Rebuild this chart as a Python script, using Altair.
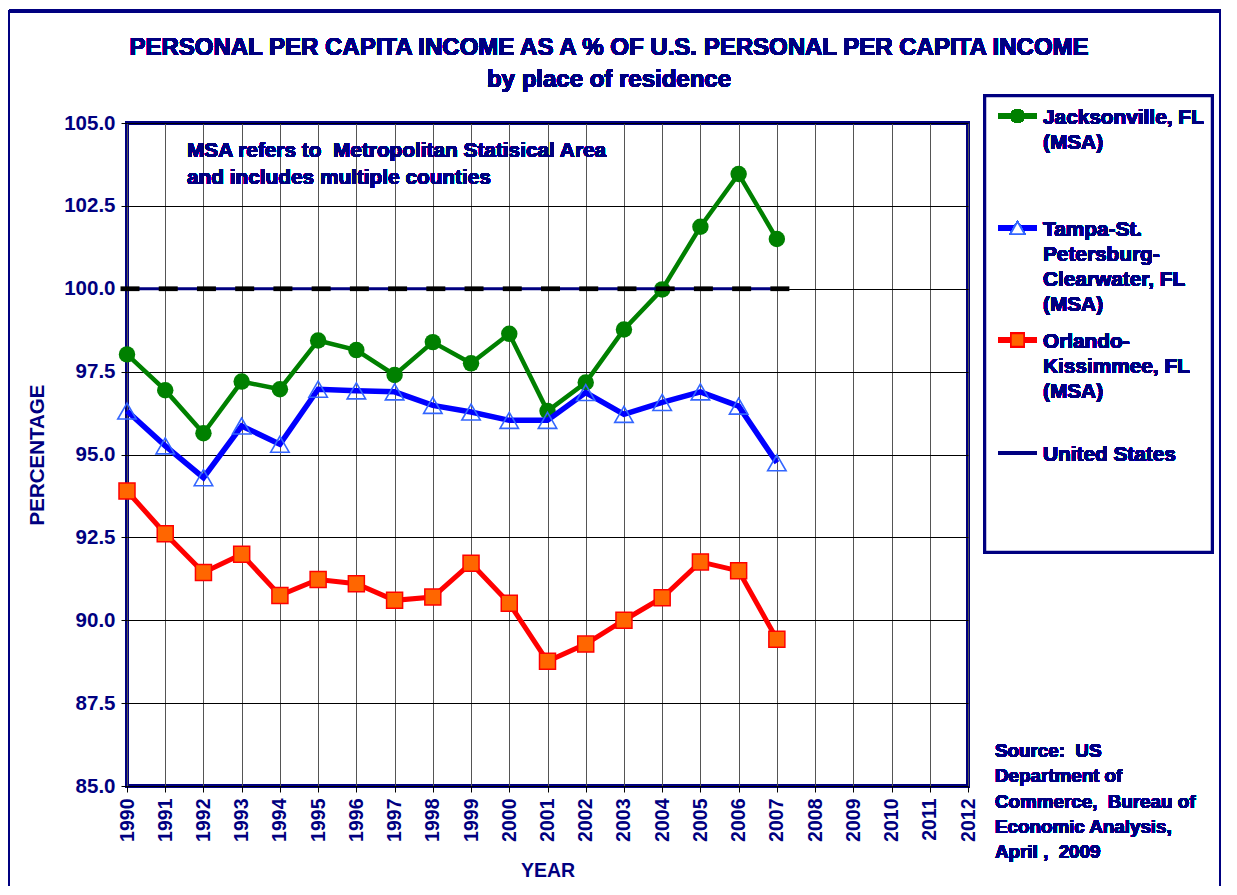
import altair as alt
import pandas as pd

years = list(range(1990, 2008))
jacksonville = [98.02, 96.94, 95.64, 97.20, 96.97, 98.44, 98.15, 97.40, 98.39, 97.75,
                98.64, 96.31, 97.17, 98.77, 99.98, 101.87, 103.46, 101.50]
tampa = [96.31, 95.26, 94.30, 95.86, 95.31, 96.97, 96.92, 96.89, 96.48, 96.28,
         96.03, 96.03, 96.87, 96.21, 96.57, 96.89, 96.46, 94.75]
orlando = [93.90, 92.61, 91.44, 91.99, 90.75, 91.23, 91.10, 90.60, 90.70, 91.72,
           90.51, 88.76, 89.28, 90.00, 90.68, 91.76, 91.49, 89.43]
united_states = [100.0] * 18

x_ticks = list(range(1990, 2013))
y_ticks = [85.0, 87.5, 90.0, 92.5, 95.0, 97.5, 100.0, 102.5, 105.0]

NB = "\u00a0"
title_lines = ["PERSONAL PER CAPITA INCOME AS A % OF U.S. PERSONAL PER CAPITA INCOME",
               "by place of residence"]
note_text = f"MSA refers to {NB}Metropolitan Statisical Area\nand includes multiple counties"
source_text = (f"Source: {NB}US\nDepartment of\nCommerce, {NB}Bureau of\n"
               f"Economic Analysis,\nApril , {NB}2009")
legend_labels = ["Jacksonville, FL\n(MSA)",
                 "Tampa-St.\nPetersburg-\nClearwater, FL\n(MSA)",
                 "Orlando-\nKissimmee, FL\n(MSA)",
                 "United States"]

NAVY = "#000080"
FONT = "Liberation Sans"
W, H = 841, 663

df = pd.DataFrame({
    "year": years * 4,
    "value": jacksonville + tampa + orlando + united_states,
    "series": (["Jacksonville"] * 18 + ["Tampa"] * 18 + ["Orlando"] * 18 + ["US"] * 18),
})

x_enc = alt.X("year:Q",
              scale=alt.Scale(domain=[1990, 2012], nice=False, zero=False),
              axis=alt.Axis(values=x_ticks, format="d", labelAngle=-90,
                            labelAlign="right", labelBaseline="middle",
                            labelFont=FONT, labelFontWeight="bold", labelFontSize=19.5,
                            labelColor=NAVY, labelPadding=6,
                            tickColor="#000000", tickSize=6, tickWidth=1,
                            grid=True, gridColor="#555555", gridWidth=1,
                            domain=False, title="YEAR", titleFont=FONT,
                            titleFontWeight="bold", titleFontSize=19.5, titleColor=NAVY,
                            titleX=W / 2, titleY=84, titleBaseline="middle",
                            titleAlign="center"))
y_enc = alt.Y("value:Q",
              scale=alt.Scale(domain=[85, 105], nice=False, zero=False),
              axis=alt.Axis(values=y_ticks, format=".1f",
                            labelFont=FONT, labelFontWeight="bold", labelFontSize=20.5,
                            labelColor=NAVY, labelPadding=6,
                            tickColor="#000000", tickSize=6, tickWidth=1,
                            grid=True, gridColor="#000000", gridWidth=1,
                            domain=False, title="PERCENTAGE", titleFont=FONT,
                            titleFontWeight="bold", titleFontSize=20.5, titleColor=NAVY,
                            titleAngle=-90, titleX=-90, titleY=H / 2,
                            titleAlign="center", titleBaseline="middle"))

base = alt.Chart(df).encode(x=x_enc, y=y_enc)

def series(name):
    return base.transform_filter(alt.datum.series == name)

jack_line = series("Jacksonville").mark_line(color="#008000", strokeWidth=4.5)
jack_pts = series("Jacksonville").mark_point(shape="circle", filled=True, color="#008000",
                                              size=270, opacity=1)
tampa_line = series("Tampa").mark_line(color="#0000FF", strokeWidth=5.5)
tampa_pts = series("Tampa").mark_point(shape="triangle-up", filled=False, color="#3366FF",
                                        size=340, strokeWidth=1.6, opacity=1)
orl_line = series("Orlando").mark_line(color="#FF0000", strokeWidth=5)
orl_pts = series("Orlando").mark_point(shape="square", filled=True, fill="#FF6600",
                                        stroke="#FF0000", strokeWidth=1.5, size=256, opacity=1)
us_line = series("US").mark_line(color=NAVY, strokeWidth=3)
DASH = "M-1,-0.25L1,-0.25L1,0.25L-1,0.25Z"
us_pts = series("US").mark_point(shape=DASH, filled=True, color="#000000",
                                  size=361, opacity=1, xOffset=3)

# Titles and notes
t1 = alt.Chart(df).mark_text(text=title_lines[0], font=FONT, fontWeight="bold", fontSize=24,
                             color=NAVY, align="center", baseline="alphabetic").encode(
    x=alt.value(482), y=alt.value(-68))
t2 = alt.Chart(df).mark_text(text=title_lines[1], font=FONT, fontWeight="bold", fontSize=24,
                             color=NAVY, align="center", baseline="alphabetic").encode(
    x=alt.value(482), y=alt.value(-36))
note = alt.Chart(df).mark_text(text=note_text, lineBreak="\n", lineHeight=27, font=FONT,
                               fontWeight="bold", fontSize=20.8, color=NAVY, align="left",
                               baseline="alphabetic").encode(
    x=alt.value(60), y=alt.value(34))
source = alt.Chart(df).mark_text(text=source_text, lineBreak="\n", lineHeight=25.3, font=FONT,
                                 fontWeight="bold", fontSize=18.8, color=NAVY, align="left",
                                 baseline="alphabetic").encode(
    x=alt.value(868), y=alt.value(634))

# Legend box and entries
legend_box = alt.Chart(df).mark_rect(fill="white", stroke=NAVY, strokeWidth=2.5).encode(
    x=alt.value(858), x2=alt.value(1085), y=alt.value(-27), y2=alt.value(429))
sym_y = [-7, 105, 217, 330]
txt_y = [1, 113, 225, 338]
leg_layers = [legend_box]
line_colors = ["#008000", "#0000FF", "#FF0000", NAVY]
line_widths = [4.5, 5.5, 5, 3]
for i in range(4):
    leg_layers.append(alt.Chart(df).mark_rule(color=line_colors[i], strokeWidth=line_widths[i]).encode(
        x=alt.value(871), x2=alt.value(910), y=alt.value(sym_y[i])))
    leg_layers.append(alt.Chart(df).mark_text(text=legend_labels[i], lineBreak="\n", lineHeight=25,
                                              font=FONT, fontWeight="bold", fontSize=20.8, color=NAVY,
                                              align="left", baseline="alphabetic").encode(
        x=alt.value(916), y=alt.value(txt_y[i])))
leg_layers.append(alt.Chart(df).mark_point(shape="circle", filled=True, color="#008000",
                                           size=200, opacity=1).encode(
    x=alt.value(890.5), y=alt.value(sym_y[0])))
leg_layers.append(alt.Chart(df).mark_point(shape="triangle-up", filled=True, fill="white",
                                           stroke="#3366FF", strokeWidth=1.6, size=200, opacity=1).encode(
    x=alt.value(890.5), y=alt.value(sym_y[1])))
leg_layers.append(alt.Chart(df).mark_point(shape="square", filled=True, fill="#FF6600",
                                           stroke="#FF0000", strokeWidth=1.5, size=170, opacity=1).encode(
    x=alt.value(890.5), y=alt.value(sym_y[2])))

# Outer frame
frame = alt.Chart(df).mark_rect(fill=None, filled=False, stroke=NAVY, strokeWidth=1.5).encode(
    x=alt.value(-118), x2=alt.value(1093), y=alt.value(-112), y2=alt.value(800))
frame_top = alt.Chart(df).mark_rule(color=NAVY, strokeWidth=4).encode(
    x=alt.value(-118), x2=alt.value(1094), y=alt.value(-112))

chart = alt.layer(
    frame, frame_top,
    jack_line, jack_pts, tampa_line, tampa_pts, orl_line, orl_pts, us_line, us_pts,
    t1, t2, note, source, *leg_layers
).properties(
    width=W, height=H,
    autosize=alt.AutoSizeParams(type="none"),
    padding={"left": 119, "top": 115, "right": 255, "bottom": 100},
    background="white",
).configure_view(
    stroke=NAVY, strokeWidth=4
)

chart.save("out.html", embed_options={"renderer": "svg", "actions": False})
